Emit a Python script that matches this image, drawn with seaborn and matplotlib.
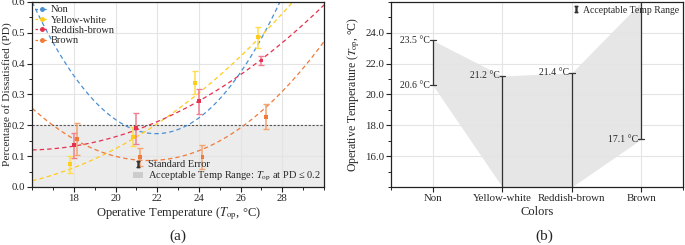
#!/usr/bin/env python3
# plot PD vs operative temperature and acceptable temperature ranges

import numpy as np
import pandas as pd
import seaborn as sns
import matplotlib
matplotlib.use('Agg')
import matplotlib.pyplot as plt
from matplotlib.lines import Line2D
from matplotlib.patches import Patch
from matplotlib.ticker import MultipleLocator, FixedLocator, FormatStrFormatter

# Data =========================================================================

series = ['Non', 'Yellow-white', 'Reddish-brown', 'Brown']
colors = ['#4a8fd4', '#ffcc1a', '#e6304f', '#f07a3a']
err_colors = ['#8fbbe6', '#ffdc4d', '#ee7f93', '#f5a36f']

# fitted quadratics PD = c0 + c1*(T-16) + c2*(T-16)^2
coef_c0 = [0.6, 0.02, 0.12, 0.255]
coef_c1 = [-0.1438, 0.01646, 0.00157, -0.0607]
coef_c2 = [0.0121, 0.002395, 0.002286, 0.00544]

# measured points (mean +- standard error)
yw_t = [17.83, 20.84, 23.83, 26.85]
yw_pd = [0.073, 0.163, 0.338, 0.485]
yw_se = [0.028, 0.030, 0.038, 0.035]
rb_t = [18.0, 21.0, 24.0, 27.0]
rb_pd = [0.135, 0.190, 0.278, 0.410]
rb_se = [0.040, 0.050, 0.040, 0.015]
br_t = [18.17, 21.17, 24.17, 27.2]
br_pd = [0.155, 0.097, 0.097, 0.228]
br_se = [0.052, 0.030, 0.040, 0.040]

# acceptable temperature ranges (panel b)
range_low = [20.6, 14.0, 14.0, 17.1]
range_high = [23.5, 21.2, 21.4, 26.0]
low_label = ['20.6 °C', None, None, '17.1 °C']
high_label = ['23.5 °C', '21.2 °C', '21.4 °C', None]

# Plot =========================================================================

def main():
    sns.set_theme(style='whitegrid')
    plt.rcParams['font.family'] = ['Liberation Serif', 'DejaVu Serif']
    plt.rcParams['mathtext.fontset'] = 'stix'
    fig = plt.figure(figsize=(6.85, 2.45), dpi=100)
    ax1 = fig.add_axes([0.047, 0.237, 0.426, 0.755])
    ax2 = fig.add_axes([0.571, 0.237, 0.426, 0.755])

    # --- panel (a)
    ax1.axhspan(0, 0.2, color='#ececec', zorder=0)
    ax1.axhline(0.2, color='#555555', ls='--', lw=0.8, dashes=(2, 1.5), zorder=1)
    t = np.linspace(16, 30, 300)
    curves = []
    for name, a, b, c in zip(series, coef_c0, coef_c1, coef_c2):
        curves.append(pd.DataFrame({'T': t, 'PD': a + b * (t - 16) + c * (t - 16) ** 2,
                                    'Series': name}))
    curves = pd.concat(curves)
    sns.lineplot(data=curves, x='T', y='PD', hue='Series', palette=colors,
                 ax=ax1, legend=False, lw=0.9, zorder=2)
    for line in ax1.lines[1:]:
        line.set_dashes((3.5, 2.5))
    pts = [(yw_t, yw_pd, yw_se, 1), (rb_t, rb_pd, rb_se, 2), (br_t, br_pd, br_se, 3)]
    for x, y, e, i in pts:
        ax1.errorbar(x, y, yerr=e, fmt='none', ecolor=err_colors[i], elinewidth=1.1,
                     capsize=2.5, capthick=1.0, zorder=3)
        sns.scatterplot(x=x, y=y, ax=ax1, color=colors[i], marker='s', s=8,
                        edgecolor='none', zorder=4)
    ax1.set_xlim(16, 30)
    ax1.set_ylim(0, 0.6)
    ax1.set_xticks([18, 20, 22, 24, 26, 28])
    ax1.xaxis.set_minor_locator(MultipleLocator(1))
    ax1.yaxis.set_major_locator(MultipleLocator(0.1))
    ax1.yaxis.set_minor_locator(MultipleLocator(0.05))
    ax1.yaxis.set_major_formatter(FormatStrFormatter('%.1f'))
    ax1.set_xlabel('Operative Temperature ($T_{\\mathrm{op}}$, °C)', fontsize=9, labelpad=2)
    ax1.set_ylabel('Percentage of Dissatisfied (PD)', fontsize=8.2, labelpad=0)
    h1 = [Line2D([], [], color=c, ls='--', dashes=(2, 1.5), lw=0.9, marker='o', ms=2.5)
          for c in colors]
    leg1 = ax1.legend(h1, series, loc='upper left', frameon=False, fontsize=7.5,
                      handlelength=1.2, handletextpad=0.3, labelspacing=0.1,
                      borderaxespad=0.1, borderpad=0.2)
    ax1.add_artist(leg1)
    h2 = [Line2D([], [], color='#333333', ls='none', marker='$\\mathrm{I}$', ms=4.5),
          Patch(facecolor='#cccccc', edgecolor='none')]
    ax1.legend(h2, ['Standard Error',
                    'Acceptable Temp Range: $T_{\\mathrm{op}}$ at PD ≤ 0.2'],
               loc='lower right', frameon=False, fontsize=7.5, handlelength=1.0,
               handleheight=0.5, handletextpad=0.4, labelspacing=0.1,
               borderaxespad=0.15, borderpad=0.2)

    # --- panel (b)
    xs = np.arange(len(series))
    ax2.fill_between(xs, range_low, range_high, color='#e6e6e6', lw=0, zorder=0)
    ax2.vlines(xs, range_low, range_high, color='#333333', lw=0.9, zorder=3)
    for x, lo, hi, ll, hl in zip(xs, range_low, range_high, low_label, high_label):
        if hl:
            ax2.plot([x - 0.04, x + 0.04], [hi, hi], color='#333333', lw=0.9, zorder=3)
            ax2.text(x - 0.04, hi, hl, ha='right', va='center', fontsize=7)
        if ll:
            ax2.plot([x - 0.04, x + 0.04], [lo, lo], color='#333333', lw=0.9, zorder=3)
            ax2.text(x - 0.04, lo, ll, ha='right', va='center', fontsize=7)
    ax2.set_xlim(-0.6, 3.6)
    ax2.set_ylim(14, 26)
    ax2.set_xticks(xs)
    ax2.set_xticklabels(series)
    ax2.xaxis.set_minor_locator(FixedLocator([-0.6, 3.6]))
    ax2.set_yticks([16, 18, 20, 22, 24])
    ax2.yaxis.set_minor_locator(MultipleLocator(1))
    ax2.yaxis.set_major_formatter(FormatStrFormatter('%.1f'))
    ax2.set_xlabel('Colors', fontsize=9, labelpad=2)
    ax2.set_ylabel('Operative Temperature ($T_{\\mathrm{op}}$, °C)', fontsize=8.5, labelpad=2)
    h3 = [Line2D([], [], color='#333333', ls='none', marker='$\\mathrm{I}$', ms=4.5)]
    ax2.legend(h3, ['Acceptable Temp Range'], loc='upper right', frameon=False,
               fontsize=7, handlelength=0.8, handletextpad=0.3,
               borderaxespad=0.2, borderpad=0.2)

    for ax in (ax1, ax2):
        ax.grid(True, which='major', color='#e4e4e4', lw=0.8)
        ax.grid(False, which='minor')
        ax.set_axisbelow(True)
        for s in ax.spines.values():
            s.set_color('#222222')
            s.set_linewidth(0.9)
        ax.tick_params(which='both', direction='out', color='#222222', labelsize=7.8,
                       bottom=True, left=True, pad=1.5)
        ax.tick_params(which='major', length=3.5, width=0.8)
        ax.tick_params(which='minor', length=2, width=0.7)

    fig.text(0.26, 0.035, '(a)', ha='center', va='center', fontsize=11)
    fig.text(0.795, 0.035, '(b)', ha='center', va='center', fontsize=11)
    fig.savefig('out.png', dpi=100)


if __name__ == '__main__':
    main()
